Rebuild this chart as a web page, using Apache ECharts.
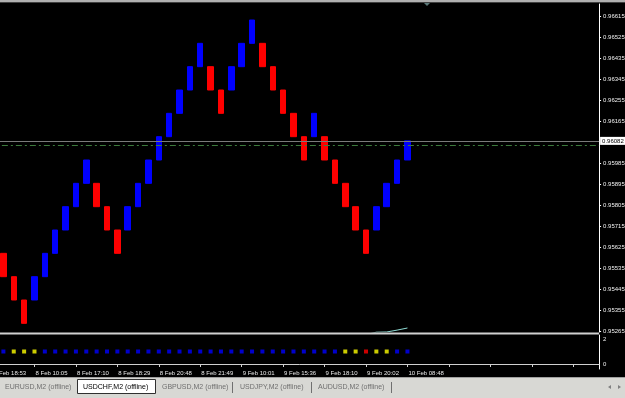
<!DOCTYPE html>
<html><head><meta charset="utf-8">
<script src="https://cdn.jsdelivr.net/npm/echarts@6/dist/echarts.min.js"></script>
<style>html,body{margin:0;padding:0;background:#000;overflow:hidden}#c{width:625px;height:398px;}</style>
</head><body><div id="c"></div>
<script>
// ---- data ----
const brickOpen  = [0.9560,0.9550,0.9540,0.9540,0.9550,0.9560,0.9570,0.9580,0.9590,0.9590,0.9580,0.9570,0.9570,0.9580,0.9590,0.9600,0.9610,0.9620,0.9630,0.9640,0.9640,0.9630,0.9630,0.9640,0.9650,0.9650,0.9640,0.9630,0.9620,0.9610,0.9610,0.9610,0.9600,0.9590,0.9580,0.9570,0.9570,0.9580,0.9590,0.9600];
const brickClose = [0.9550,0.9540,0.9530,0.9550,0.9560,0.9570,0.9580,0.9590,0.9600,0.9580,0.9570,0.9560,0.9580,0.9590,0.9600,0.9610,0.9620,0.9630,0.9640,0.9650,0.9630,0.9620,0.9640,0.9650,0.9660,0.9640,0.9630,0.9620,0.9610,0.9600,0.9620,0.9600,0.9590,0.9580,0.9570,0.9560,0.9580,0.9590,0.9600,0.96082];
const signal = ['B','Y','Y','Y','B','B','B','B','B','B','B','B','B','B','B','B','B','B','B','B','B','B','B','B','B','B','B','B','B','B','B','B','B','Y','Y','R','Y','Y','B','B'];
const signalLevel = [1,1,1,1,1,1,1,1,1,1,1,1,1,1,1,1,1,1,1,1,1,1,1,1,1,1,1,1,1,1,1,1,1,1,1,1,1,1,1,1];
const maBrick = [35,36,37,38,39];
const maValue = [0.95252,0.95262,0.95263,0.95271,0.95280];
const bidPrice = 0.96082;
const levelLine = 0.96064;
const priceTicks = [0.95265,0.95355,0.95445,0.95535,0.95625,0.95715,0.95805,0.95895,0.95985,0.96165,0.96255,0.96345,0.96435,0.96525,0.96615];
const indTicks = [0,2];
const timeTicks = ['5 Feb 18:53','8 Feb 10:05','8 Feb 17:10','8 Feb 18:29','8 Feb 20:48','8 Feb 21:49','9 Feb 10:01','9 Feb 15:36','9 Feb 18:10','9 Feb 20:02','10 Feb 08:48'];
const tabNames = ['EURUSD,M2 (offline)','USDCHF,M2 (offline)','GBPUSD,M2 (offline)','USDJPY,M2 (offline)','AUDUSD,M2 (offline)'];

// ---- build ----
const N = 59;            // categories across the plot (index 0 = bar before first brick)
const cats = [];
for (let k = 0; k < N; k++) cats.push('');
timeTicks.forEach((t, i) => { cats[i * 4] = t; });

const candle = [['-','-','-','-']];
brickOpen.forEach((o, i) => {
  const c = brickClose[i];
  candle.push([o, c, Math.min(o, c), Math.max(o, c)]);
});
const maData = maBrick.map((b, i) => [b + 1, maValue[i]]);
const colorMap = { B: '#0000ff', Y: '#ffff00', R: '#ff0000' };
const sigData = signalLevel.map((v, i) => ({ value: [i + 1, v], itemStyle: { color: colorMap[signal[i]] } }));

const AXF = "'Liberation Sans',Arial,sans-serif";
const TABF = "'Liberation Sans',Arial,sans-serif";

const tabX = [5, 83, 162, 240, 318];
const graphics = [
  { type: 'rect', z: 100, shape: { x: 0, y: 0, width: 625, height: 2 }, style: { fill: '#b0b0b0' } },
  { type: 'rect', z: 100, shape: { x: 0, y: 2, width: 625, height: 1 }, style: { fill: '#404040' } },
  { type: 'polygon', z: 100, shape: { points: [[424, 3], [430, 3], [427, 6]] }, style: { fill: '#5a7878' } },
  { type: 'rect', z: 100, shape: { x: 0, y: 332.5, width: 599, height: 2 }, style: { fill: '#d0d0d0' } },
  { type: 'rect', z: 100, shape: { x: 0, y: 377, width: 625, height: 21 }, style: { fill: '#d8d8d4' } },
  { type: 'rect', z: 100, shape: { x: 0, y: 377, width: 625, height: 1 }, style: { fill: '#a0a0a0' } },
  { type: 'rect', z: 101, shape: { x: 77.5, y: 379.5, width: 78, height: 14 }, style: { fill: '#ffffff', stroke: '#303030', lineWidth: 1 } },
  { type: 'line', z: 101, shape: { x1: 232.5, y1: 382, x2: 232.5, y2: 393 }, style: { stroke: '#707070', lineWidth: 1 } },
  { type: 'line', z: 101, shape: { x1: 311.5, y1: 382, x2: 311.5, y2: 393 }, style: { stroke: '#707070', lineWidth: 1 } },
  { type: 'line', z: 101, shape: { x1: 391.5, y1: 382, x2: 391.5, y2: 393 }, style: { stroke: '#707070', lineWidth: 1 } },
  { type: 'polygon', z: 101, shape: { points: [[611, 385], [611, 389], [608, 387]] }, style: { fill: '#808080' } },
  { type: 'polygon', z: 101, shape: { points: [[618, 385], [618, 389], [621, 387]] }, style: { fill: '#808080' } }
];
tabNames.forEach((t, i) => {
  graphics.push({ type: 'text', z: 102, x: tabX[i], y: 387,
    style: { text: t, fill: i === 1 ? '#000000' : '#707070', font: '7px ' + TABF, textVerticalAlign: 'middle', textAlign: 'left' } });
});

const chart = echarts.init(document.getElementById('c'), null, { renderer: 'canvas' });
chart.setOption({
  animation: false,
  backgroundColor: '#000000',
  grid: [
    { left: -12.14, top: 4, width: 611.24, height: 328, outerBoundsMode: 'none', containLabel: false },
    { left: -12.14, top: 335, width: 611.24, height: 34, outerBoundsMode: 'none', containLabel: false }
  ],
  xAxis: [
    { type: 'category', gridIndex: 0, data: cats, show: false },
    { type: 'category', gridIndex: 1, data: cats,
      axisLine: { show: true, lineStyle: { color: '#d0d0d0', width: 1 } },
      axisTick: { show: true, alignWithLabel: true, interval: (i) => i % 4 === 0, length: 3, lineStyle: { color: '#d0d0d0' } },
      axisLabel: { show: true, interval: (i) => i % 4 === 0, align: 'left', padding: [0, 0, 0, 1], margin: 1,
        color: '#e8e8e8', fontSize: 6, fontFamily: AXF },
      splitLine: { show: false } }
  ],
  yAxis: [
    { type: 'value', gridIndex: 0, position: 'right', min: 0.952629, max: 0.966686, scale: true,
      axisLine: { show: true, lineStyle: { color: '#ffffff', width: 1 } },
      axisTick: { show: true, customValues: priceTicks, length: 2, lineStyle: { color: '#ffffff' } },
      axisLabel: { show: true, customValues: priceTicks, formatter: (v) => v.toFixed(5), margin: 4,
        color: '#f0f0f0', fontSize: 6, fontFamily: AXF },
      splitLine: { show: false } },
    { type: 'value', gridIndex: 1, position: 'right', min: -0.4, max: 2.32,
      axisLine: { show: true, lineStyle: { color: '#ffffff', width: 1 } },
      axisTick: { show: false },
      axisLabel: { show: true, customValues: indTicks, formatter: (v) => String(v), margin: 4,
        color: '#f0f0f0', fontSize: 6, fontFamily: AXF },
      splitLine: { show: false } }
  ],
  series: [
    { type: 'candlestick', xAxisIndex: 0, yAxisIndex: 0, data: candle, barWidth: 6,
      itemStyle: { color: '#0000ff', color0: '#ff0000', borderColor: '#0000ff', borderColor0: '#ff0000', borderWidth: 1 } },
    { type: 'line', xAxisIndex: 0, yAxisIndex: 0, data: maData, symbol: 'none', clip: true,
      lineStyle: { color: '#8fdcd4', width: 1 },
      markLine: { silent: true, symbol: ['none', 'none'], animation: false, precision: 5,
        data: [
          { yAxis: bidPrice, lineStyle: { color: '#7a7a7a', type: 'solid', width: 1 },
            label: { show: true, position: 'end', distance: 1, formatter: bidPrice.toFixed(5), backgroundColor: '#ffffff',
              color: '#000000', fontSize: 6, fontFamily: AXF, padding: [1, 2, 1, 2] } },
          { yAxis: levelLine, lineStyle: { color: '#3c7a3c', type: [6, 3, 2, 3], width: 1 }, label: { show: false } }
        ] } },
    { type: 'scatter', xAxisIndex: 1, yAxisIndex: 1, data: sigData, symbol: 'rect', symbolSize: 4 }
  ],
  graphic: graphics
});
</script>
</body></html>
